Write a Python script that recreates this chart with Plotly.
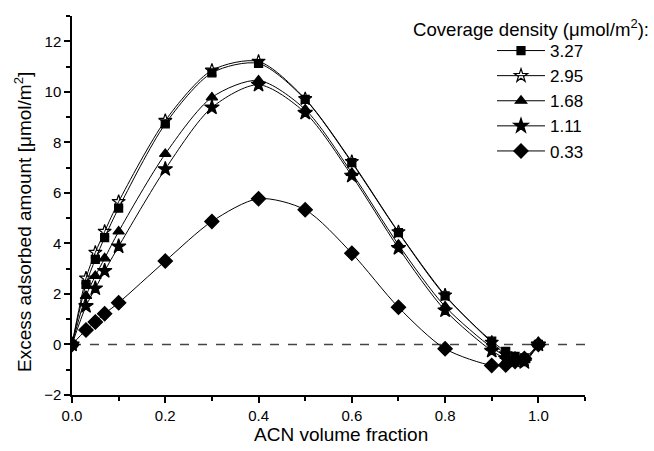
import plotly.graph_objects as go

# ---- data ----
acn_fraction = [0, 0.03, 0.05, 0.07, 0.1, 0.2, 0.3, 0.4, 0.5, 0.6, 0.7, 0.8, 0.9, 0.93, 0.95, 0.97, 1.0]

series_names = ["3.27", "2.95", "1.68", "1.11", "0.33"]

y_327 = [0, 2.38, 3.37, 4.23, 5.40, 8.73, 10.75, 11.12, 9.70, 7.20, 4.43, 1.92, 0.13, -0.27, -0.47, -0.53, 0]
y_295 = [0, 2.62, 3.64, 4.47, 5.65, 8.86, 10.85, 11.20, 9.72, 7.23, 4.45, 1.95, 0.08, -0.38, -0.55, -0.62, 0]
y_168 = [0, 1.92, 2.71, 3.41, 4.47, 7.54, 9.78, 10.45, 9.30, 6.79, 3.95, 1.50, -0.12, -0.45, -0.58, -0.62, 0]
y_111 = [0, 1.52, 2.22, 2.91, 3.88, 6.94, 9.38, 10.28, 9.17, 6.68, 3.82, 1.35, -0.25, -0.55, -0.65, -0.70, 0]
y_033 = [0, 0.57, 0.89, 1.22, 1.65, 3.30, 4.87, 5.77, 5.33, 3.61, 1.47, -0.17, -0.83, -0.81, -0.67, -0.56, 0]

x_ticks = [0.0, 0.2, 0.4, 0.6, 0.8, 1.0]
y_ticks = [-2, 0, 2, 4, 6, 8, 10, 12]

series_values = [y_327, y_295, y_168, y_111, y_033]
symbols = ["square", "star-open", "triangle-up", "star", "diamond"]
sizes = [8, 10, 10, 11, 11]

FONT = "Arial, Liberation Sans, sans-serif"

fig = go.Figure()
for name, vals, sym, sz in zip(series_names, series_values, symbols, sizes):
    fig.add_trace(go.Scatter(
        x=acn_fraction, y=vals, name=name,
        mode="lines+markers",
        line=dict(color="black", width=1, shape="spline", smoothing=0.8),
        marker=dict(symbol=sym, size=sz, color="black",
                    line=dict(color="black", width=1.2)),
    ))

# dashed zero line
fig.add_shape(type="line", xref="x", yref="y", x0=0, x1=1.1, y0=0, y1=0,
              line=dict(color="#444444", width=1.5, dash="dash"), layer="below")

W, H = 654, 451
ml, mr, mt, mb = 72, 69, 16, 56
PW, PH = W - ml - mr, H - mt - mb


def px_x(p):
    return (p - ml) / PW


def px_y(p):
    return (H - mb - p) / PH


fig.update_layout(
    width=W, height=H,
    margin=dict(l=ml, r=mr, t=mt, b=mb, autoexpand=False),
    paper_bgcolor="white", plot_bgcolor="white",
    font=dict(family=FONT, size=15, color="black"),
    showlegend=True,
    legend=dict(
        x=px_x(492), y=px_y(33),
        xanchor="left", yanchor="top",
        font=dict(family=FONT, size=17, color="black"),
        bgcolor="rgba(0,0,0,0)", tracegroupgap=0, itemwidth=48,
    ),
    xaxis=dict(
        range=[0, 1.1], tickvals=x_ticks, tickformat=".1f",
        showgrid=False, zeroline=False, automargin=False,
        showline=True, linecolor="black", linewidth=1.5,
        ticks="outside", ticklen=6, tickwidth=1.5, tickcolor="black",
        minor=dict(dtick=0.1, ticks="outside", ticklen=4, tickwidth=1.5, tickcolor="black"),
        tickfont=dict(family=FONT, size=15),
    ),
    yaxis=dict(
        range=[-2, 13], tickvals=y_ticks,
        showgrid=False, zeroline=False, automargin=False,
        showline=True, linecolor="black", linewidth=1.5,
        ticks="outside", ticklen=6, tickwidth=1.5, tickcolor="black",
        minor=dict(dtick=1, ticks="outside", ticklen=4, tickwidth=1.5, tickcolor="black"),
        tickfont=dict(family=FONT, size=15),
    ),
    annotations=[
        dict(text="Coverage density (μmol/m<sup>2</sup>):",
             xref="paper", yref="paper", x=px_x(651), y=px_y(14),
             xanchor="right", yanchor="top", showarrow=False,
             font=dict(family=FONT, size=18.6, color="black")),
        dict(text="ACN volume fraction",
             xref="paper", yref="paper", x=px_x(341), y=px_y(434),
             xanchor="center", yanchor="middle", showarrow=False,
             font=dict(family=FONT, size=19, color="black")),
        dict(text="Excess adsorbed amount [μmol/m<sup>2</sup>]",
             xref="paper", yref="paper", x=px_x(23), y=px_y(222),
             xanchor="center", yanchor="middle", showarrow=False, textangle=-90,
             font=dict(family=FONT, size=19, color="black")),
    ],
)

fig.write_html("out.html")
